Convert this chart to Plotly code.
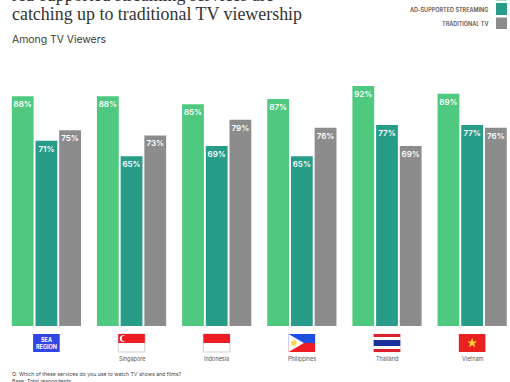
import plotly.graph_objects as go

W, H = 510, 382
M_L, M_R, M_T, M_B = 4, 0, 60, 56

countries = ["SEA REGION", "Singapore", "Indonesia", "Philippines", "Thailand", "Vietnam"]
ad_free = [88, 88, 85, 87, 92, 89]
ad_supported = [71, 65, 69, 65, 77, 77]
traditional = [75, 73, 79, 76, 69, 76]

GREEN, TEAL, GREY = "#4EC97F", "#279C88", "#8C8C8C"
FONT = "Inter, 'Liberation Sans', sans-serif"
INK = "#3A3A3A"

PW, PH = W - M_L - M_R, H - M_T - M_B
PERIOD = 85.15
CENTER0 = 46.4


def py(px):
    return (H - M_B - px) / PH


def px_x(px):
    return (px - M_L) / PW


fig = go.Figure()
for name, vals, col in [("STREAMING", ad_free, GREEN),
                        ("AD-SUPPORTED STREAMING", ad_supported, TEAL),
                        ("TRADITIONAL TV", traditional, GREY)]:
    fig.add_trace(go.Bar(
        x=list(range(6)), y=vals, name=name, marker=dict(color=col, line_width=0),
        text=[f"{v}%" for v in vals], textposition="inside", insidetextanchor="end",
        textangle=0, constraintext="none",
        textfont=dict(family=FONT, size=8, color="white", weight=600),
        hoverinfo="skip"))

shapes, ann = [], []


def rect(i, x0, x1, y0, y1, color, line=None):
    """Flag rectangle: x in pixels from the category, y in page pixels."""
    shapes.append(dict(type="rect", xref="x", xsizemode="pixel", xanchor=i, x0=x0, x1=x1,
                       yref="paper", ysizemode="pixel", yanchor=0,
                       y0=(H - M_B) - y1, y1=(H - M_B) - y0,
                       fillcolor=color, line=dict(width=1, color=line) if line else dict(width=0),
                       layer="above"))


def path(i, d, color):
    shapes.append(dict(type="path", xref="x", xsizemode="pixel", xanchor=i,
                       yref="paper", ysizemode="pixel", yanchor=0, path=d,
                       fillcolor=color, line=dict(width=0), layer="above"))


def circle(i, cx, cy, r, color):
    shapes.append(dict(type="circle", xref="x", xsizemode="pixel", xanchor=i,
                       x0=cx - r, x1=cx + r, yref="paper", ysizemode="pixel", yanchor=0,
                       y0=(H - M_B) - cy - r, y1=(H - M_B) - cy + r,
                       fillcolor=color, line=dict(width=0), layer="above"))


T, B = 334, 352  # flag top and bottom on the page
FW = 13.3
Y = lambda v: (H - M_B) - v

# SEA region
rect(0, -FW, FW, T, B, "#2F45E6")
ann.append(dict(x=0, xref="x", y=py(343), yref="paper", text="<b>SEA<br>REGION</b>", showarrow=False,
                font=dict(family=FONT, size=5.5, color="white"), align="center", yanchor="middle"))
# Singapore
rect(1, -FW, FW, T, B, "#FFFFFF", "#D0D0D0")
rect(1, -FW, FW, T, (T + B) / 2, "#EE1C25")
circle(1, -8.5, T + 4.5, 3.2, "#FFFFFF")
circle(1, -7, T + 4.5, 2.8, "#EE1C25")
# Indonesia
rect(2, -FW, FW, T, B, "#FFFFFF", "#D0D0D0")
rect(2, -FW, FW, T, (T + B) / 2, "#EE1C25")
# Philippines
rect(3, -FW, FW, T, (T + B) / 2, "#1F4FE0")
rect(3, -FW, FW, (T + B) / 2, B, "#EE1C25")
path(3, f"M {-FW} {Y(T)} L 2 {Y((T + B) / 2)} L {-FW} {Y(B)} Z", "#FFFFFF")
circle(3, -8, (T + B) / 2, 2.8, "#FBD54A")
# Thailand
rect(4, -FW, FW, T, B, "#FFFFFF", "#E8E8E8")
rect(4, -FW, FW, T, T + 3, "#D9202E")
rect(4, -FW, FW, B - 3, B, "#D9202E")
rect(4, -FW, FW, T + 6, B - 6, "#1B2F9E")
# Vietnam
rect(5, -FW, FW, T, B, "#E8201F")
c = (T + B) / 2
star = [(0, -5.2), (1.3, -1.6), (5, -1.6), (2, 0.6), (3.1, 4.2), (0, 2), (-3.1, 4.2), (-2, 0.6), (-5, -1.6), (-1.3, -1.6)]
path(5, "M " + " L ".join(f"{dx} {Y(c + dy)}" for dx, dy in star) + " Z", "#FFD42A")

# Country names
for i, n in enumerate(countries):
    if i:
        ann.append(dict(x=i, xref="x", y=py(358.5), yref="paper", text=n, showarrow=False,
                        font=dict(family=FONT, size=5.5, color="#555555"), yanchor="middle"))


def text(x, y, s, size, color=INK, family=FONT, anchor="left", weight=None):
    f = dict(family=family, size=size, color=color)
    if weight:
        f["weight"] = weight
    ann.append(dict(x=px_x(x), xref="paper", y=py(y), yref="paper", text=s, showarrow=False,
                    font=f, xanchor=anchor, yanchor="middle", align=anchor))


SERIF = "'Liberation Serif', serif"
text(9.5, -5, "Ad-supported streaming services are", 17.9, "#333333", SERIF)
text(9.5, 14, "catching up to traditional TV viewership", 17.9, "#333333", SERIF)
text(9.5, 39.5, "Among TV Viewers", 10.4, "#3A3A3A", FONT)
text(9.5, 374, "Q: Which of these services do you use to watch TV shows and films?", 5.2, "#444444", FONT)
text(9.5, 381, "Base: Total respondents", 5.2, "#444444", FONT)

# Legend
text(490, 10, "AD-SUPPORTED STREAMING", 5.5, "#555555", FONT, "right", 600)
text(490, 24, "TRADITIONAL TV", 5.5, "#555555", FONT, "right", 600)
for y0, y1, col in [(-11, 0.5, GREEN), (3, 15, TEAL), (17.5, 29, GREY)]:
    shapes.append(dict(type="rect", xref="paper", yref="paper", x0=px_x(496), x1=px_x(507),
                       y0=py(y1), y1=py(y0), fillcolor=col, line=dict(width=0)))

fig.update_layout(
    width=W, height=H, autosize=False, showlegend=False,
    margin=dict(l=M_L, r=M_R, t=M_T, b=M_B, pad=0),
    paper_bgcolor="white", plot_bgcolor="white",
    barmode="group", bargap=0.165, bargroupgap=0.08,
    xaxis=dict(range=[(M_L - CENTER0) / PERIOD, (W - CENTER0) / PERIOD], showticklabels=False,
               showgrid=False, zeroline=False, ticks="", fixedrange=True),
    yaxis=dict(range=[0, PH / 2.61], visible=False, fixedrange=True),
    shapes=shapes, annotations=ann,
)
fig.write_html("out.html", config=dict(displayModeBar=False),
               post_script="document.body.style.margin='0';document.body.style.overflow='hidden';")
